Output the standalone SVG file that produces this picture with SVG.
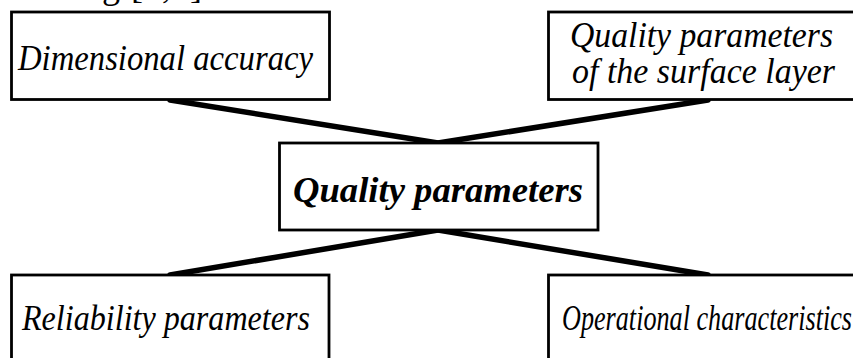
<svg xmlns="http://www.w3.org/2000/svg" width="853" height="358" viewBox="0 0 853 358">
<style>
.box{fill:#fff;stroke:#000;stroke-width:2.8}
.t{font-family:'Liberation Serif','Times New Roman',serif;font-style:italic;font-size:36px;fill:#000}
.b{font-weight:bold;font-size:36px}
.frag{font-family:'Liberation Serif','Times New Roman',serif;font-size:36px;fill:#000}
.con{stroke:#000;stroke-width:5.5;stroke-linecap:round;fill:none}
</style>
<rect width="853" height="358" fill="#fff"/>
<text class="frag" y="-2.5"><tspan x="102">g</tspan><tspan x="131">[</tspan><tspan x="162">,</tspan><tspan x="190">]</tspan></text>
<g id="connectors">
<line class="con" x1="170" y1="100" x2="438" y2="143"/>
<line class="con" x1="708" y1="100" x2="438" y2="143"/>
<line class="con" x1="438" y1="230" x2="170" y2="275"/>
<line class="con" x1="438" y1="230" x2="708" y2="275"/>
</g>
<g id="dimensional">
<rect class="box" x="11.5" y="12" width="318" height="87.5"/>
<text class="t" x="18" y="70" textLength="295" lengthAdjust="spacingAndGlyphs">Dimensional accuracy</text>
</g>
<g id="surface">
<rect class="box" x="548.5" y="12" width="320" height="87.5"/>
<text class="t" x="570" y="47" textLength="263" lengthAdjust="spacingAndGlyphs">Quality parameters</text>
<text class="t" x="572" y="83" textLength="263" lengthAdjust="spacingAndGlyphs">of the surface layer</text>
</g>
<g id="quality">
<rect class="box" x="279.5" y="143" width="318.5" height="87"/>
<text class="t b" x="293" y="202" textLength="290" lengthAdjust="spacingAndGlyphs">Quality parameters</text>
</g>
<g id="reliability">
<rect class="box" x="11.5" y="275" width="317.5" height="100"/>
<text class="t" x="22" y="330" textLength="288" lengthAdjust="spacingAndGlyphs">Reliability parameters</text>
</g>
<g id="operational">
<rect class="box" x="548.5" y="275" width="320" height="100"/>
<text class="t" x="562" y="330" textLength="290" lengthAdjust="spacingAndGlyphs">Operational characteristics</text>
</g>
</svg>
